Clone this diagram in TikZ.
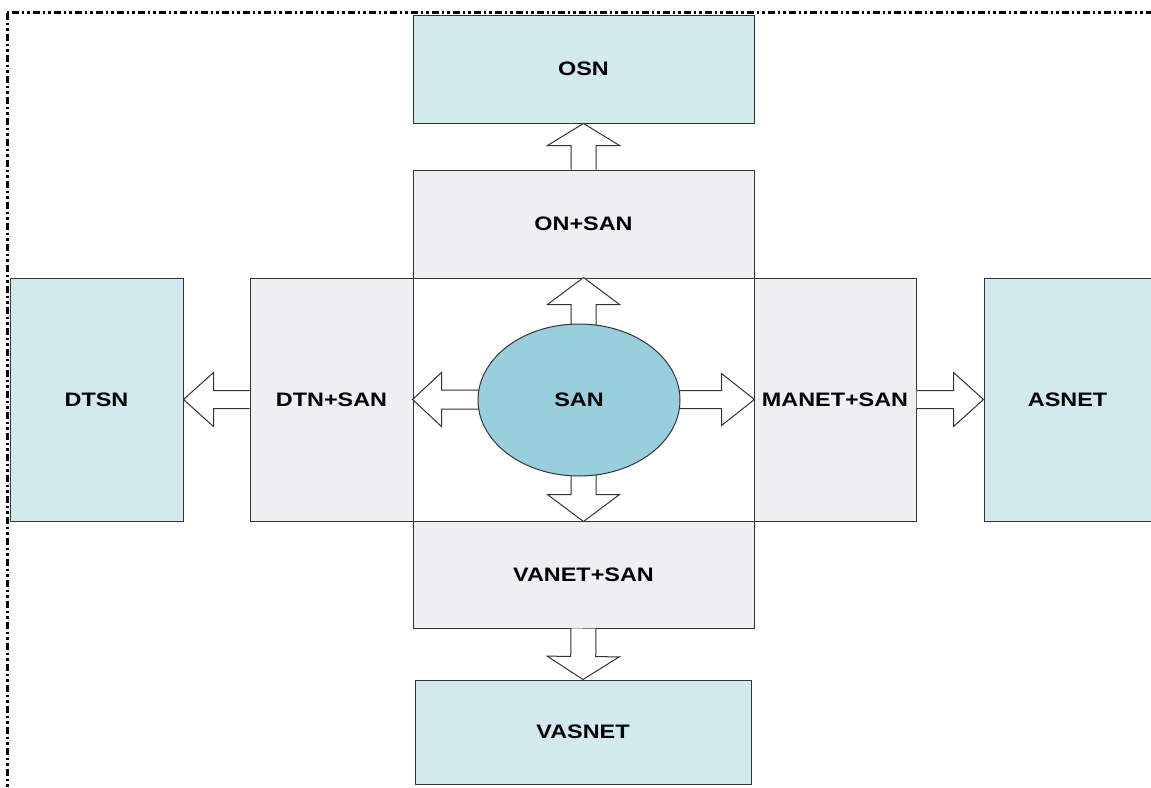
\documentclass[tikz,border=0pt]{standalone}
\usepackage{fontspec}
\setmainfont{Liberation Sans}[FakeStretch=1.2]
\usetikzlibrary{calc,shapes.geometric}
\definecolor{boxblue}{HTML}{D2E9EE}
\definecolor{boxgray}{HTML}{EFEEF3}
\definecolor{sanblue}{HTML}{99CFDD}
\definecolor{edgegray}{HTML}{333333}
% #1 start, #2 tip, #3 shaft half width, #4 head half width, #5 head length
\newcommand\blockarr[5]{%
  \coordinate (ba-h) at ($(#2)!#5pt!(#1)$);
  \filldraw[arrowbox] ($(#1)!#3pt!90:(#2)$) -- ($(ba-h)!#3pt!90:(#2)$) -- ($(ba-h)!#4pt!90:(#2)$) -- (#2)
    -- ($(ba-h)!#4pt!-90:(#2)$) -- ($(ba-h)!#3pt!-90:(#2)$) -- ($(#1)!#3pt!-90:(#2)$);
}
\begin{document}
\begin{tikzpicture}[x=1pt,y=-1pt,
  base/.style={draw=edgegray,line width=1pt,inner sep=0pt,font=\fontsize{19.5}{22}\selectfont\bfseries},
  netbox/.style={base,fill=boxblue},
  hybox/.style={base,fill=boxgray},
  corebox/.style={base,fill=white},
  arrowbox/.style={fill=white,draw=edgegray,line width=1pt,line join=miter},
  frame/.style={draw=black,line width=2.6pt,dash pattern=on 7pt off 3pt on 2.5pt off 3pt on 2.5pt off 3pt}]
\useasboundingbox (0,0) rectangle (1151,787);
\fill[white] (0,0) rectangle (1151,787);
\begin{scope}
  \clip (0,0) rectangle (1151,787);
  \draw[frame] (7.3,12.5) rectangle (1190,820);
\end{scope}

% boxes
\node[netbox,minimum width=341pt,minimum height=108pt] (osn) at (583.5,69) {OSN};
\node[hybox,minimum width=341pt,minimum height=108pt] (onsan) at (583.5,224) {ON+SAN};
\node[hybox,minimum width=163pt,minimum height=243pt] (dtnsan) at (331.5,399.5) {DTN+SAN};
\node[hybox,minimum width=162pt,minimum height=243pt] (manetsan) at (835,399.5) {MANET+SAN};
\node[hybox,minimum width=341pt,minimum height=107pt] (vanetsan) at (583.5,574.5) {VANET+SAN};
\node[corebox,minimum width=341pt,minimum height=243pt] (core) at (583.5,399.5) {};
\node[netbox,minimum width=336pt,minimum height=104pt] (vasnet) at (583,732) {VASNET};
\node[netbox,minimum width=173pt,minimum height=243pt] (dtsn) at (96.5,399.5) {DTSN};
\node[netbox,minimum width=167pt,minimum height=243pt] (asnet) at (1067.5,399.5) {ASNET};

% outer arrows
\blockarr{onsan.north}{osn.south}{12.5}{36}{22}
\blockarr{vanetsan.south}{vasnet.north}{12.5}{36}{23}
\blockarr{dtnsan.west}{dtsn.east}{9}{27}{30}
\blockarr{manetsan.east}{asnet.west}{9}{27}{30}

% inner arrows
\blockarr{core.center}{core.north}{12.5}{36}{27}
\blockarr{core.center}{core.south}{12.5}{36}{27}
\blockarr{core.center}{core.west}{9.5}{27}{29}
\blockarr{core.center}{core.east}{9}{26}{33}

\node[base,ellipse,fill=sanblue,minimum width=202pt,minimum height=152pt] (san) at (579,400) {SAN};
\end{tikzpicture}
\end{document}
